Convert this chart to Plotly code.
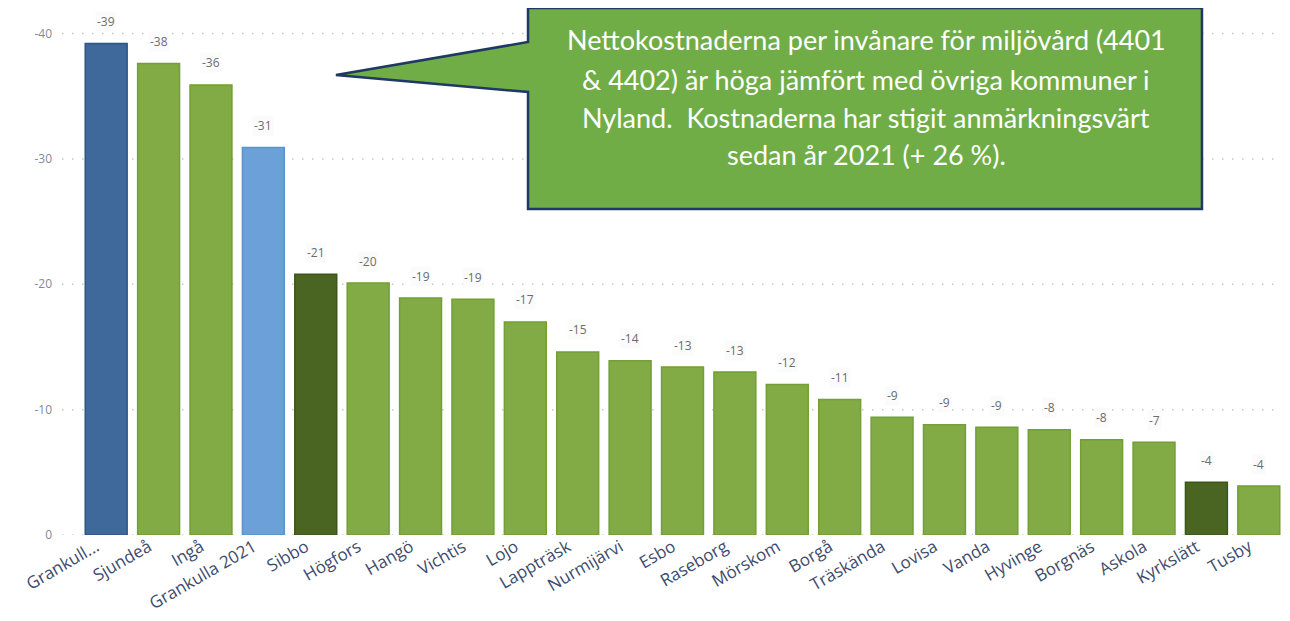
import plotly.graph_objects as go

# municipalities, ordered as in the chart
kommuner = [
    'Grankull...', 'Sjundeå', 'Ingå', 'Grankulla 2021', 'Sibbo', 'Högfors',
    'Hangö', 'Vichtis', 'Lojo', 'Lappträsk', 'Nurmijärvi', 'Esbo', 'Raseborg',
    'Mörskom', 'Borgå', 'Träskända', 'Lovisa', 'Vanda', 'Hyvinge', 'Borgnäs',
    'Askola', 'Kyrkslätt', 'Tusby',
]

# net cost per inhabitant, environmental care (euro)
nettokostnad = [
    -39.2, -37.6, -35.9, -30.9, -20.8, -20.1, -18.9, -18.8, -17.0, -14.6,
    -13.9, -13.4, -13.0, -12.0, -10.8, -9.4, -8.8, -8.6, -8.4, -7.6,
    -7.4, -4.2, -3.9,
]

y_ticks = [0, -10, -20, -30, -40]
y_tick_labels = ['0', '-10', '-20', '-30', '-40']

callout_lines = [
    'Nettokostnaderna per invånare för miljövård (4401',
    '& 4402) är höga jämfört med övriga kommuner i',
    'Nyland.  Kostnaderna har stigit anmärkningsvärt',
    'sedan år 2021 (+ 26 %).',
]

GREEN = '#82AA45'
bar_colors = [GREEN] * len(kommuner)
bar_colors[0] = '#3F699A'
bar_colors[3] = '#6BA0D8'
bar_colors[4] = '#4A6522'
bar_colors[21] = '#4A6522'
line_colors = ['#2D5687' if c == '#3F699A' else
               '#5A93D0' if c == '#6BA0D8' else
               '#3C5618' if c == '#4A6522' else '#72A032' for c in bar_colors]

# page body adds an 8px offset; plot area given in screen pixels
OFF = 8
L, R, T, B = 80, 1285, 21, 535


def px(x, y):
    return (x - L) / (R - L), (B - y) / (B - T)


fig = go.Figure()

# dotted grid lines, reaching a little left of the plot area
for t in y_ticks:
    fig.add_shape(type='line', xref='paper', yref='y', x0=px(62, 0)[0], x1=1,
                  y0=t, y1=t, layer='below',
                  line={'color': '#c8c8c8', 'width': 1.5, 'dash': '1.5px,8.5px'})

fig.add_trace(go.Bar(
    x=kommuner,
    y=nettokostnad,
    marker={'color': bar_colors, 'line': {'color': line_colors, 'width': 1.5}},
    width=0.8,
    hoverinfo='x+y',
))

for k, v in zip(kommuner, nettokostnad):
    fig.add_annotation(x=k, y=v, text='%.0f' % v, showarrow=False,
                       yanchor='middle', yshift=22, bgcolor='#fbfbfb',
                       font={'size': 12, 'color': '#6b6b70', 'family': 'Open Sans'})

pts = [(528, 8), (1202, 8), (1202, 209), (528, 209), (528, 92), (336, 75), (528, 42)]
path = 'M ' + ' L '.join('%.4f,%.4f' % px(x, y) for x, y in pts) + ' Z'
fig.add_shape(type='path', path=path, xref='paper', yref='paper',
              fillcolor='#70AD47', line={'color': '#1F3864', 'width': 2.5},
              layer='above')
for line, ly in zip(callout_lines, [40, 79, 117, 155]):
    cx, cy = px(866, ly)
    fig.add_annotation(x=cx, y=cy, xref='paper', yref='paper', text=line,
                       showarrow=False, xanchor='center', yanchor='middle',
                       font={'size': 27, 'color': 'white', 'family': 'Lato'})

fig.update_layout(
    width=1290, height=621,
    margin={'l': L - OFF, 'r': 1290 - R + OFF, 't': T - OFF, 'b': 621 - B + OFF},
    plot_bgcolor='white', paper_bgcolor='white',
    showlegend=False,
    xaxis={'tickangle': -30, 'tickfont': {'size': 17, 'color': '#3d4b6b',
                                          'family': 'Open Sans'},
           'ticklabelshift': -10, 'ticklabelstandoff': -2,
           'showgrid': False, 'showline': False},
    yaxis={'range': [0, -41], 'tickvals': y_ticks, 'ticktext': y_tick_labels,
           'showgrid': False, 'zeroline': False, 'ticklabelstandoff': 27,
           'tickfont': {'size': 12, 'color': '#7d8aa3', 'family': 'Open Sans'}},
)

fig.write_html('out.html')
